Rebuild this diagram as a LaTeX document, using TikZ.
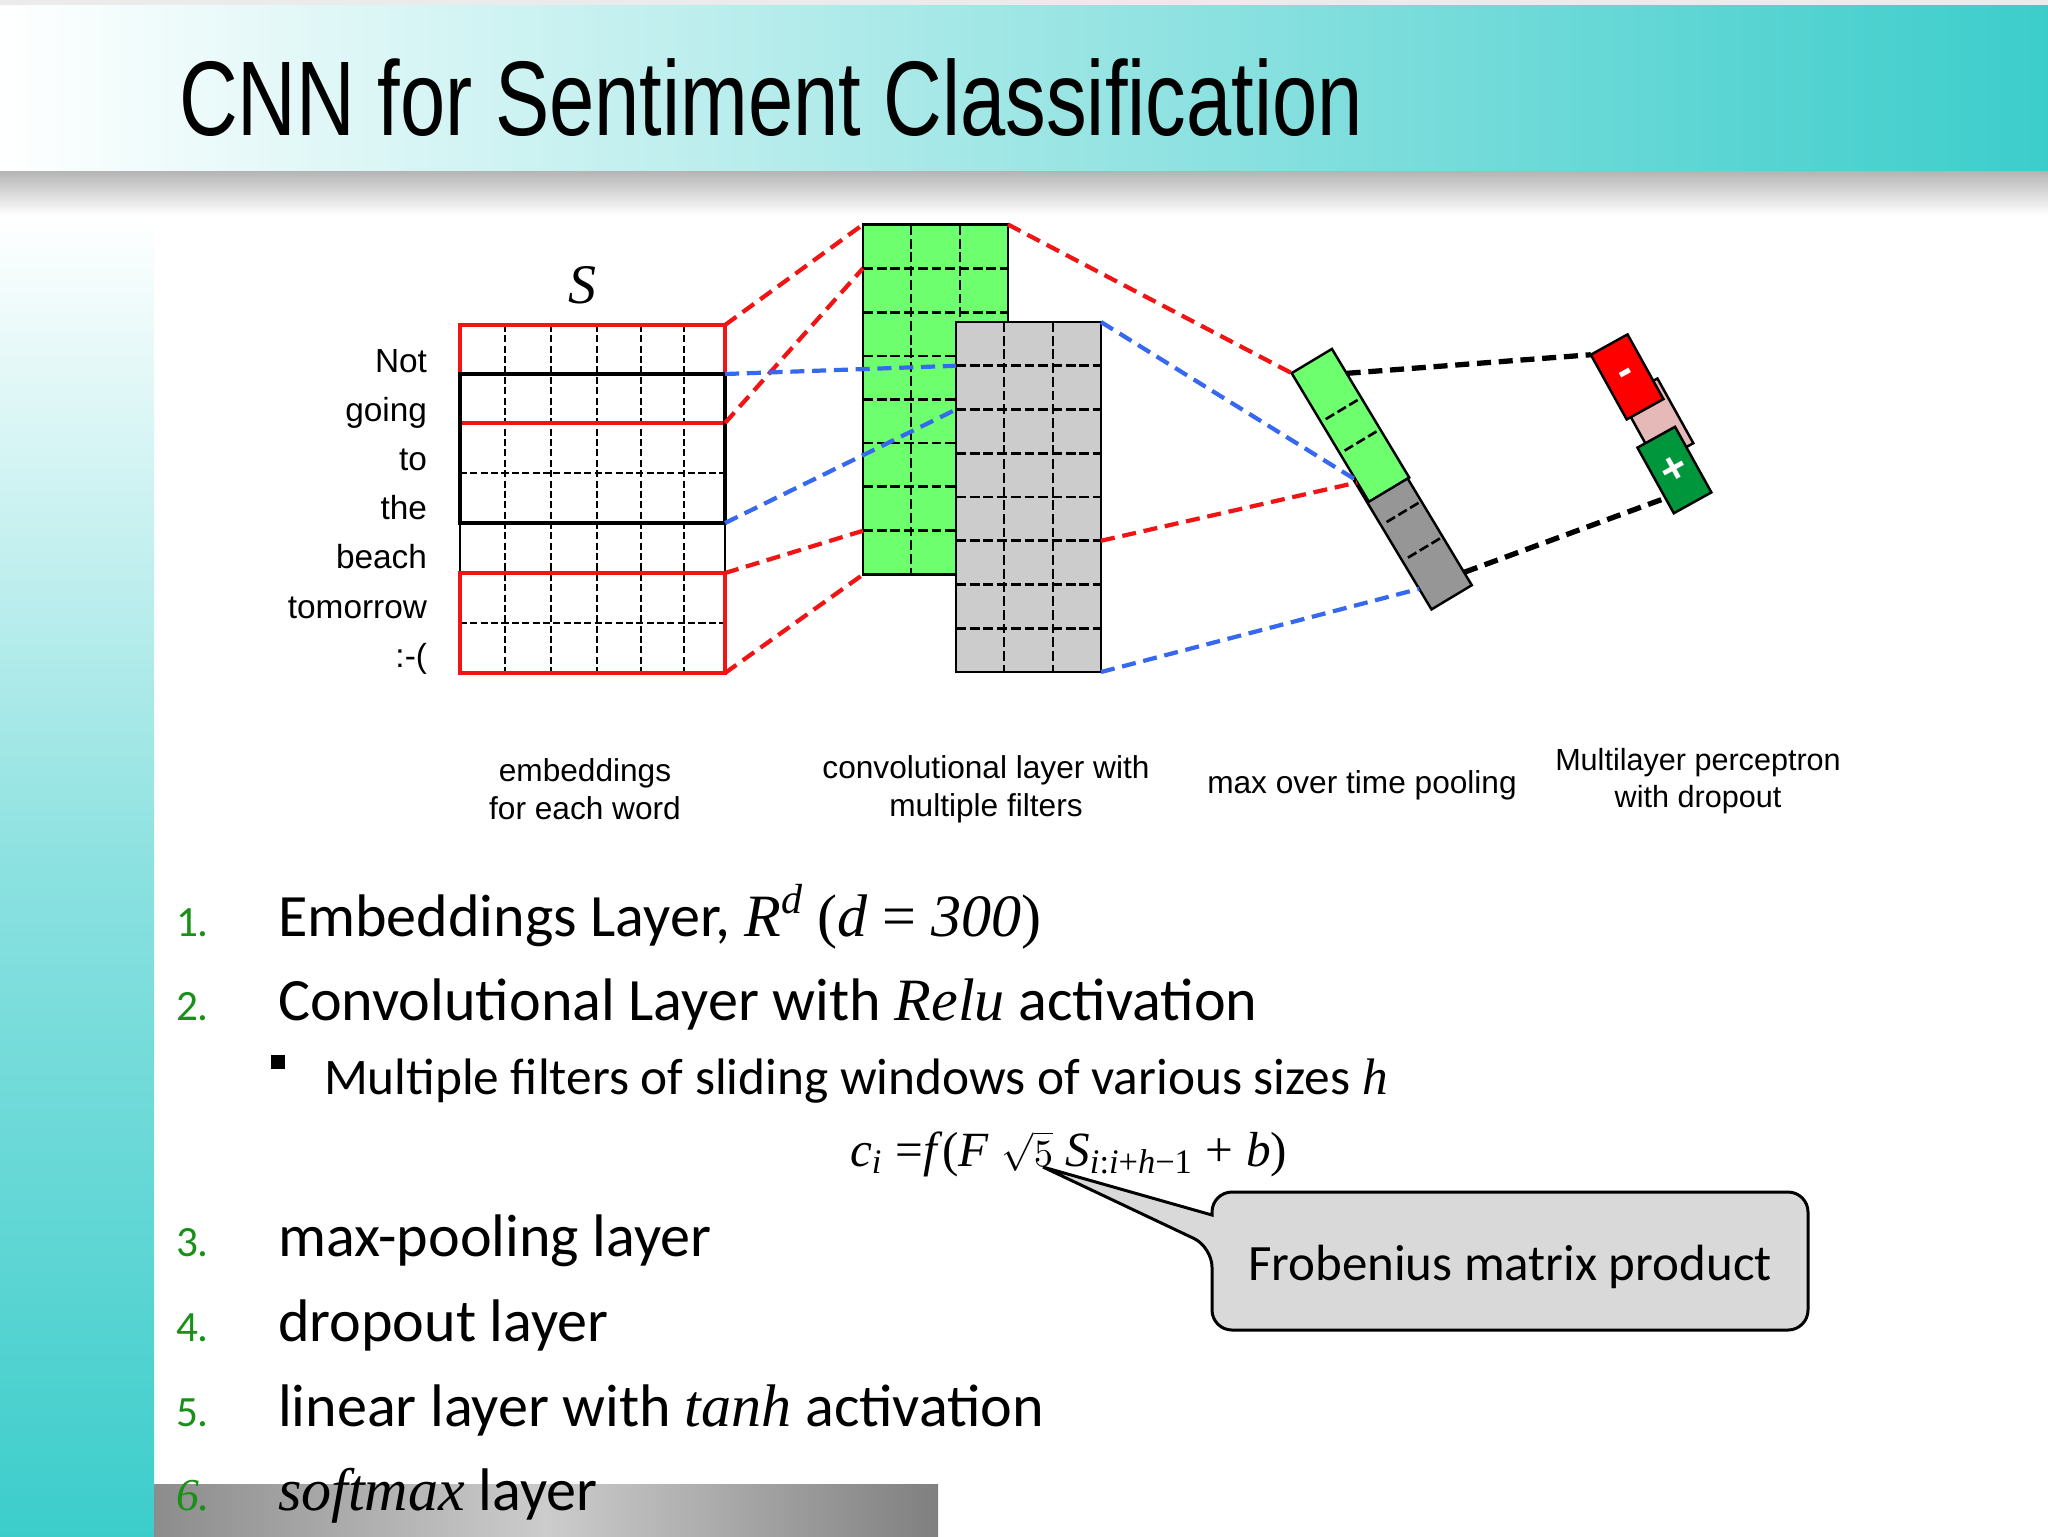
\documentclass[tikz,border=0pt]{standalone}
\usepackage{fontspec}
\usepackage{graphicx}
\setmainfont{Carlito}
\newfontfamily\arialf{Liberation Sans}
\newfontfamily\tms{Liberation Serif}
\usetikzlibrary{calc}
\newcommand{\fsz}[2]{\fontsize{#1}{#2}\selectfont}
\definecolor{teal2}{RGB}{60,205,203}
\definecolor{cgreen}{RGB}{110,255,110}
\definecolor{cgray}{RGB}{204,204,204}
\definecolor{pgray}{RGB}{150,150,150}
\definecolor{cred}{RGB}{240,20,20}
\definecolor{cblue}{RGB}{55,105,240}
\definecolor{mgreen}{RGB}{0,150,60}
\definecolor{mpink}{RGB}{230,185,185}
\definecolor{numgreen}{RGB}{25,145,25}
\definecolor{callgray}{RGB}{217,217,217}

\begin{document}
\begin{tikzpicture}[x=0.1mm,y=-0.1mm,
 every node/.style={inner sep=0pt,outer sep=0pt},
 lbl/.style={font=\arialf\fsz{9pt}{10.8pt},align=center},
 word/.style={font=\arialf\fsz{9.5pt}{11pt},anchor=base east},
 cell/.style={draw,line width=0.7pt,minimum width=14.5mm,minimum height=35mm},
 cgrid/.style={line width=0.75pt,dash pattern=on 2.8pt off 1.1pt},
 egrid/.style={line width=0.57pt,dash pattern=on 2pt off 0.95pt},
 win/.style={draw=cred,line width=1.4pt,minimum width=26.5mm},
 conn/.style={line width=1.2pt,dash pattern=on 4pt off 2.2pt},
 poolbar/.style={draw,line width=0.7pt,minimum width=4.7mm,minimum height=15mm,rotate=31},
 outbox/.style={draw,line width=0.7pt,minimum width=4.2mm,minimum height=7.4mm,rotate=29,
   text=white,font=\arialf\bfseries\fsz{12.5pt}{14pt}},
 num/.style={font=\fsz{12.3pt}{14pt},text=numgreen,anchor=base west},
 item/.style={font=\fsz{17.1pt}{20pt},anchor=base west}]
\useasboundingbox (0,0) rectangle (2048,1536);
% slide background
\fill[white] (0,0) rectangle (2048,1536);
\shade[top color=black!30,bottom color=white] (0,170) rectangle (2048,215);
\shade[top color=white,bottom color=teal2,middle color=teal2!60] (0,215) rectangle (154,1536);
\shade[left color=white,right color=teal2] (0,5) rectangle (2048,170);
\fill[black!8] (0,0) rectangle (2048,5);
\shade[left color=black!45,right color=black!50,middle color=black!20] (154,1484) rectangle (938,1536);
\node[anchor=base west,font=\arialf\fsz{30.2pt}{36pt}] (title) at (179,135)
  {\scalebox{0.766}[1]{CNN for Sentiment Classification}};

% embeddings
\node[draw,line width=0.6pt,minimum width=26.5mm,minimum height=34.8mm] (emb) at (592.5,499) {};
\foreach \x in {505,551,597,641,684} \draw[egrid] (\x,325) -- (\x,673);
\foreach \y in {473,623} \draw[egrid] (460,\y) -- (725,\y);
\node[win,minimum height=9.8mm] (w1) at (592.5,374) {};
\node[win,draw=black,minimum height=14.9mm] (w2) at (592.5,448.5) {};
\node[win,minimum height=10mm] (w3) at (592.5,623) {};
\node[font=\tms\itshape\fsz{15.9pt}{18pt}] (S) at (582,285) {S};
\foreach \w [count=\i from 0] in {Not,going,to,the,beach,tomorrow,:-(}
  \node[word] (wd\i) at (427,372+49.2*\i) {\w};

% convolution
\node[cell,fill=cgreen] (cA) at (935.5,399.5) {};
\foreach \x in {911,960} \draw[cgrid] (\x,225) -- (\x,574);
\foreach \i in {1,...,7} \draw[cgrid] (863,225+43.6*\i) -- (1008,225+43.6*\i);
\draw[conn,cred] (w1.north east) -- (cA.north west);
\draw[conn,cred] (w1.south east) -- ($(cA.north west)!1/8!(cA.south west)$);
\draw[conn,cred] (w3.north east) -- ($(cA.north west)!7/8!(cA.south west)$);
\draw[conn,cred] (w3.south east) -- (cA.south west);
\node[cell,fill=cgray] (cB) at (1028.5,497) {};
\foreach \x in {1004,1053} \draw[cgrid] (\x,322) -- (\x,672);
\foreach \i in {1,...,7} \draw[cgrid] (956,322+43.75*\i) -- (1101,322+43.75*\i);
\draw[conn,cblue] (w2.north east) -- ($(cB.north west)!1/8!(cB.south west)$);
\draw[conn,cblue] (w2.south east) -- ($(cB.north west)!2/8!(cB.south west)$);

% pooling
\node[poolbar,fill=pgray] (pB) at (1413,533) {};
\node[poolbar,fill=cgreen] (pA) at (1350.4,425.3) {};
\begin{scope}[shift={(pA.center)},rotate=31]
\draw[cgrid] (-18,-18) -- (20,-18); \draw[cgrid] (-18,18.7) -- (20,18.7);
\end{scope}
\begin{scope}[shift={(pB.center)},rotate=31]
\draw[cgrid] (-17,-23) -- (21,-23); \draw[cgrid] (-17,18.5) -- (21,18.5);
\end{scope}
\draw[conn,cred] (cA.north east) -- (pA.north west);
\draw[conn,cred] ($(cB.north east)!5/8!(cB.south east)$) -- ($(pA.north west)!0.85!(pA.south west)$);
\draw[conn,cblue] (cB.north east) -- ($(pA.north west)!0.83!(pA.south west)$);
\draw[conn,cblue] (cB.south east) -- ($(pB.north west)!0.84!(pB.south west)$);

% output
\node[outbox,fill=mpink] (dp) at (1657,421) {};
\node[outbox,fill=red] (neg) at (1627.1,376.9) {-};
\node[outbox,fill=mgreen,minimum width=4.3mm,minimum height=7.5mm] (pos) at (1674.4,470) {+};
\draw[conn,line width=1.5pt] ($(pA.north east)!0.19!(pA.south east)$) -- (neg.north west);
\draw[conn,line width=1.5pt] ($(pB.north east)!0.9!(pB.south east)$) -- ($(pos.north west)!0.77!(pos.south west)$);

\node[lbl] (lemb) at (585,789) {embeddings\\for each word};
\node[lbl] (lconv) at (986,789) {convolutional layer with\\multiple filters};
\node[lbl] (lpool) at (1362,785) {max over time pooling};
\node[lbl,font=\arialf\fsz{8.7pt}{10.6pt}] (lmlp) at (1698,781) {Multilayer perceptron\\with dropout};

% list
\foreach \n/\y in {1/936,2/1020,3/1256,4/1341,5/1426} \node[num] (n\n) at (176,\y) {\n.};
\node[num,font=\tms\itshape\fsz{13pt}{14pt}] (n6) at (176,1510) {6.};
\node[item] (i1) at (278,936) {Embeddings Layer, {\tms\itshape R\textsuperscript{d}} {\tms(\textit{d} = \textit{300})}};
\node[item] (i2) at (278,1020) {Convolutional Layer with {\tms\itshape Relu} activation};
\node[fill=black,minimum size=1.4mm] (sb) at (277.5,1062) {};
\node[anchor=base west,font=\fsz{14.6pt}{17pt}] (sub) at (324,1094) {Multiple filters of sliding windows of various sizes {\tms\itshape h}};
\node[anchor=base west,font=\tms\fsz{14pt}{16pt}] (eq) at (850,1166)
  {\textit{c}\textsubscript{\textit{i}} =\textit{f}(\textit{F} {\fsz{11pt}{12pt}$\sqrt{5}$} \textit{S}\textsubscript{\textit{i}:\textit{i}+\textit{h}−1} + \textit{b})};
\node[item] (i3) at (278,1256) {max-pooling layer};
\node[item] (i4) at (278,1341) {dropout layer};
\node[item] (i5) at (278,1426) {linear layer with {\tms\itshape tanh} activation};
\node[item] (i6) at (278,1510) {{\tms\itshape softmax} layer};

% callout
\coordinate (tip) at (1043,1167);
\draw[line width=0.85pt,fill=callgray] (1212,1247) -- (tip) -- (1212,1215) [rounded corners=2mm]
  -- (1212,1192) -- (1808,1192) -- (1808,1330) -- (1212,1330) -- cycle;
\node[font=\fsz{14.5pt}{17pt}] (frob) at (1510,1267) {Frobenius matrix product};
\end{tikzpicture}
\end{document}
